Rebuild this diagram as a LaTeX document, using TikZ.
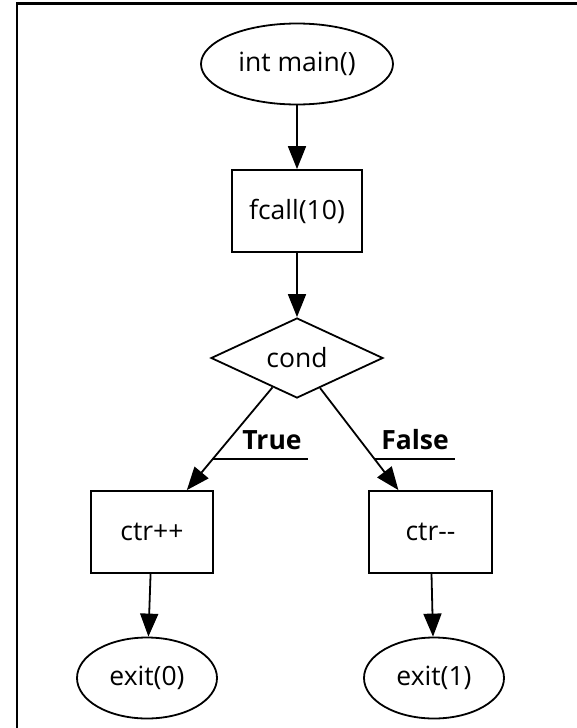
\documentclass[tikz,border=0pt]{standalone}
\usepackage{fontspec}
\setmainfont{Open Sans}[Ligatures=TeXOff]
\usetikzlibrary{shapes.geometric,arrows.meta,calc}

\tikzset{
  every node/.style={font=\fontsize{26.5}{30}\selectfont, inner sep=0pt},
  outline/.style={draw, line width=1.8pt},
  terminal/.style={outline, ellipse, minimum height=81pt},
  process/.style={outline, rectangle, minimum width=125pt, minimum height=82pt},
  decision/.style={outline, diamond, shape aspect=2.15, minimum width=172pt, minimum height=80pt},
  flow/.style={line width=1.8pt, -{Triangle[length=23pt,width=18pt]}},
  edgelabel/.style={font=\fontsize{26.5}{30}\selectfont\bfseries, inner xsep=4pt},
  underline/.style={line width=1.6pt},
  frame/.style={line width=2.3pt}
}

\begin{document}
\begin{tikzpicture}[x=1pt, y=-1pt]
  \useasboundingbox (0,0) rectangle (576,728);

  % page frame
  \coordinate (fb) at (17,730);
  \coordinate (fc) at (17,3.5);
  \coordinate (fr) at (578,3.5);
  \draw[frame] (fb) -- (fc) -- (fr);

  % nodes
  \node[terminal, minimum width=192pt] (main) at (297,64) {int main()};
  \node[process, minimum width=130pt] (fcall) at (297,211) {fcall(10)};
  \node[decision] (cond) at (297,358) {cond};
  \node[process, minimum width=122pt] (ctrinc) at (152,532) {ctr++};
  \node[process, minimum width=123pt] (ctrdec) at (430.5,532) {ctr--};
  \node[terminal, minimum width=140pt] (exit0) at (147,678) {exit(0)};
  \node[terminal, minimum width=140pt] (exit1) at (434,678) {exit(1)};

  % connectors
  \draw[flow] (main) -- (fcall);
  \draw[flow] (fcall) -- (cond);
  \draw[flow] (cond) -- (ctrinc);
  \draw[flow] (cond) -- (ctrdec);
  \draw[flow] (ctrinc) -- (exit0);
  \draw[flow] (ctrdec) -- (exit1);

  % branch labels, underlined back to their edges
  \node[edgelabel] (ltrue) at (272,440) {True};
  \node[edgelabel] (lfalse) at (415,440) {False};
  \coordinate (utrue) at ($(cond)!0.580!(ctrinc)$);
  \coordinate (ufalse) at ($(cond)!0.580!(ctrdec)$);
  \coordinate (etrue) at (308,459);
  \coordinate (efalse) at (455,459);
  \draw[underline] (utrue) -- (utrue -| etrue);
  \draw[underline] (ufalse) -- (ufalse -| efalse);
\end{tikzpicture}
\end{document}
